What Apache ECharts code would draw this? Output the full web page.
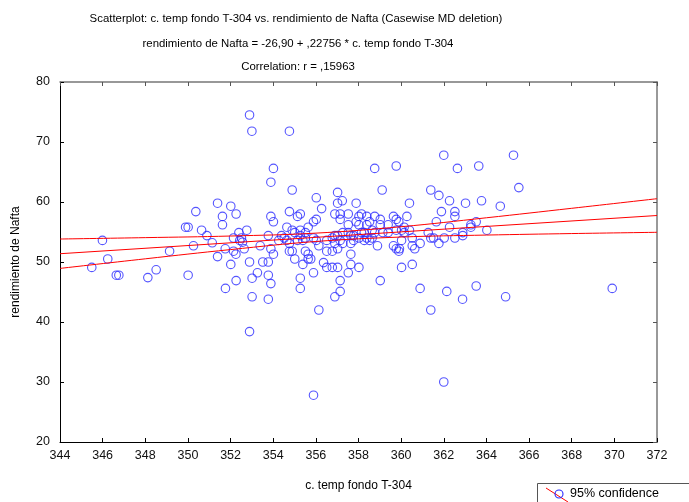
<!DOCTYPE html>
<html>
<head>
<meta charset="utf-8">
<script src="https://cdn.jsdelivr.net/npm/echarts@6/dist/echarts.min.js"></script>
<style>html,body{margin:0;padding:0;background:#fff;}#c{width:689px;height:502px;}</style>
</head>
<body>
<div id="c"></div>
<script>
// ---- data ----
const tempX = [345.49,345.99,346.24,346.64,346.76,348.12,348.51,349.14,349.89,350.01,350.01,350.26,350.37,
350.64,350.89,351.14,351.39,351.39,351.62,351.62,351.75,351.76,352.01,352.01,352.14,352.14,352.25,352.26,352.26,
352.39,352.43,352.51,352.56,352.64,352.76,352.89,353.0,352.89,352.89,353.01,353.01,353.26,353.39,
353.51,353.77,353.77,353.77,353.77,353.89,353.89,354.01,353.89,354.01,353.89,354.01,354.26,354.39,354.52,354.64,
354.64,354.76,354.89,354.76,354.89,355.01,354.76,354.76,354.89,355.01,355.14,355.14,355.27,355.27,355.27,355.27,355.39,
355.51,355.51,355.64,355.64,355.39,355.51,355.27,355.64,355.76,355.89,355.89,355.89,355.89,356.02,356.02,356.02,
356.14,356.14,356.27,356.36,356.51,356.51,356.51,356.77,356.77,356.77,356.89,356.89,356.89,356.89,357.02,357.02,
357.02,357.02,357.02,357.14,357.14,357.14,357.14,357.14,357.24,357.26,357.26,357.52,357.52,357.52,357.52,357.64,
357.64,357.64,357.64,357.77,357.77,357.89,357.89,358.02,358.02,358.02,358.02,
358.14,358.14,358.27,358.27,358.39,358.39,358.39,358.52,358.52,358.64,358.64,358.76,358.76,358.76,358.89,359.02,
359.02,359.02,359.11,359.14,359.39,359.39,359.64,359.64,359.77,359.77,359.77,359.77,359.89,359.89,360.02,360.02,
359.92,360.02,360.14,360.14,360.27,360.39,360.39,360.52,360.52,360.64,360.52,360.89,360.89,
361.27,361.39,361.39,361.39,361.52,361.65,361.77,361.77,361.89,362.0,362.0,362.02,362.14,362.27,362.27,362.52,
362.52,362.52,362.64,362.88,362.89,362.89,363.02,363.27,363.27,363.52,363.52,363.64,363.77,364.02,364.65,364.90,
365.27,365.52,369.90];
const nafta = [49.1,53.6,50.5,47.8,47.8,47.4,48.7,51.8,55.8,55.8,47.8,52.7,58.4,
55.3,54.4,53.2,59.8,50.9,57.6,56.2,52.2,45.6,59.3,49.6,54.0,51.8,51.3,58.0,46.9,
54.9,53.6,54.0,53.3,52.2,55.3,74.5,71.8,50.0,38.4,47.3,44.2,48.2,52.7,
50.0,50.0,54.4,47.8,43.8,46.4,63.3,65.6,57.6,56.7,52.2,51.3,53.6,54.4,54.0,55.8,
53.6,71.8,62.0,58.4,55.3,54.9,53.1,51.8,51.8,50.5,57.6,53.6,58.0,55.3,47.3,45.6,49.6,
54.9,51.8,55.8,51.3,53.6,54.0,54.4,50.5,50.5,48.2,56.7,54.0,27.8,60.7,57.1,53.6,
52.7,42.0,58.9,49.9,53.6,51.8,49.1,51.8,49.1,54.0,58.0,54.4,53.1,44.2,61.6,59.8,
54.4,52.2,49.1,58.0,57.1,53.6,46.9,45.1,60.2,54.9,53.1,58.0,56.2,54.9,48.2,54.4,
53.1,51.3,49.6,54.4,53.6,59.8,56.7,57.6,56.2,54.0,49.1,
58.0,54.9,54.9,53.6,57.6,56.2,54.0,56.7,53.6,55.3,54.0,65.6,57.6,54.9,52.7,57.1,
56.2,46.9,62.0,54.9,56.2,54.9,57.6,52.7,66.0,57.1,55.3,52.2,56.7,51.8,55.3,53.6,
52.2,49.1,55.8,54.9,57.6,59.8,55.3,54.0,52.7,52.2,49.6,53.1,45.6,
54.9,62.0,54.0,42.0,54.0,56.7,61.1,53.1,58.4,67.8,30.0,54.0,45.1,60.2,55.8,58.4,
57.6,54.0,65.6,43.8,54.9,54.4,59.8,56.2,55.8,56.7,46.0,66.0,60.2,55.3,59.3,44.2,
67.8,62.4,45.6];
// regression line (from printed equation) endpoints and 95% confidence bands
const fitX = [344, 372];
const fitY = [51.38, 57.75];
const bandX = [344, 348, 352, 356, 360, 364, 368, 372];
const bandUpper = [53.83, 54.06, 54.33, 54.81, 55.88, 57.37, 58.95, 60.55];
const bandLower = [48.93, 50.53, 52.07, 53.42, 54.16, 54.49, 54.74, 54.95];
const xTicks = [344,346,348,350,352,354,356,358,360,362,364,366,368,370,372];
const yTicks = [20,30,40,50,60,70,80];

const FONT = 'Liberation Sans, Arial, sans-serif';
const chart = echarts.init(document.getElementById('c'), null, {renderer: 'canvas'});
const zip = (a, b) => a.map((v, i) => [v, b[i]]);

const baseX = {
  type: 'value', min: xTicks[0], max: xTicks[xTicks.length - 1], interval: 2,
  splitLine: {show: false}
};
const baseY = {
  type: 'value', min: yTicks[0], max: yTicks[yTicks.length - 1], interval: 10,
  splitLine: {show: false}
};

chart.setOption({
  animation: false,
  backgroundColor: '#fff',
  title: [
    {text: 'Scatterplot: c. temp fondo T-304 vs. rendimiento de Nafta (Casewise MD deletion)', left: 291, top: 8, textAlign: 'center',
     textStyle: {fontSize: 11.4, fontWeight: 'normal', color: '#000', fontFamily: FONT}},
    {text: 'rendimiento de Nafta = -26,90 + ,22756 * c. temp fondo T-304', left: 293, top: 33, textAlign: 'center',
     textStyle: {fontSize: 11.4, fontWeight: 'normal', color: '#000', fontFamily: FONT}},
    {text: 'Correlation: r = ,15963', left: 293, top: 56, textAlign: 'center',
     textStyle: {fontSize: 11.4, fontWeight: 'normal', color: '#000', fontFamily: FONT}}
  ],
  grid: {left: 60, right: 32, top: 82, bottom: 60, containLabel: false},
  xAxis: [
    Object.assign({}, baseX, {
      position: 'bottom',
      name: 'c. temp fondo T-304', nameLocation: 'middle', nameGap: 38,
      nameTextStyle: {fontSize: 12, color: '#000', fontFamily: FONT},
      axisLine: {lineStyle: {color: '#000', width: 1}},
      axisTick: {inside: true, length: 4, lineStyle: {color: '#000'}},
      axisLabel: {fontSize: 12.5, color: '#111', margin: 7, fontFamily: FONT}
    }),
    Object.assign({}, baseX, {
      position: 'top',
      axisLine: {lineStyle: {color: '#777', width: 1.5}},
      axisTick: {inside: true, length: 4, lineStyle: {color: '#555'}},
      axisLabel: {show: false}
    })
  ],
  yAxis: [
    Object.assign({}, baseY, {
      position: 'left',
      name: 'rendimiento de Nafta', nameLocation: 'middle', nameGap: 38,
      nameTextStyle: {fontSize: 12, color: '#000', fontFamily: FONT},
      axisLine: {lineStyle: {color: '#000', width: 1}},
      axisTick: {inside: true, length: 4, lineStyle: {color: '#000'}},
      axisLabel: {fontSize: 12.5, color: '#111', margin: 10, fontFamily: FONT}
    }),
    Object.assign({}, baseY, {
      position: 'right',
      axisLine: {lineStyle: {color: '#777', width: 1.5}},
      axisTick: {inside: true, length: 4, lineStyle: {color: '#555'}},
      axisLabel: {show: false}
    })
  ],
  series: [
    {
      type: 'scatter', name: '95% confidence', data: zip(tempX, nafta),
      symbol: 'circle', symbolSize: 8.5,
      itemStyle: {color: 'rgba(0,0,0,0)', borderColor: '#2a2aff', borderWidth: 1.1},
      z: 3
    },
    {
      type: 'line', data: zip(fitX, fitY), symbol: 'none',
      lineStyle: {color: '#ff0000', width: 1}, z: 4
    },
    {
      type: 'line', data: zip(bandX, bandUpper), symbol: 'none', smooth: 0.4,
      lineStyle: {color: '#ff0000', width: 1}, z: 4
    },
    {
      type: 'line', data: zip(bandX, bandLower), symbol: 'none', smooth: 0.4,
      lineStyle: {color: '#ff0000', width: 1}, z: 4
    }
  ],
  graphic: [
    {type: 'rect', shape: {x: 537.5, y: 483.5, width: 160, height: 30},
     style: {fill: '#fff', stroke: '#555', lineWidth: 1}},
    {type: 'line', shape: {x1: 546, y1: 488, x2: 568, y2: 502},
     style: {stroke: '#ff0000', lineWidth: 1}},
    {type: 'circle', shape: {cx: 559, cy: 494, r: 4},
     style: {fill: 'rgba(0,0,0,0)', stroke: '#2a2aff', lineWidth: 1.1}},
    {type: 'text', style: {x: 570, y: 494, text: '95% confidence', fill: '#000',
      font: '12.5px ' + FONT, textVerticalAlign: 'middle'}}
  ]
});
</script>
</body>
</html>
